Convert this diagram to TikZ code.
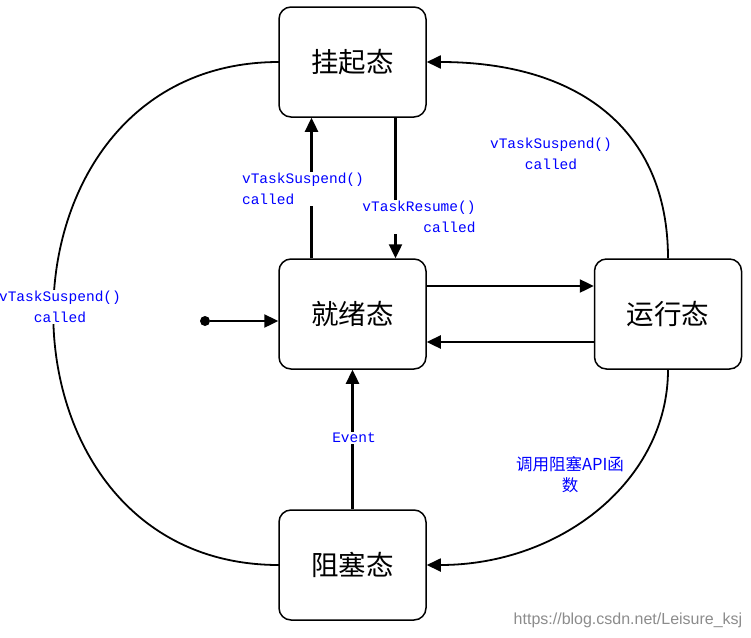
\documentclass[tikz,border=0pt]{standalone}
\usepackage{fontspec}
\newfontfamily\cjk{Noto Sans CJK SC}
\newfontfamily\labmono{Liberation Mono}
\newfontfamily\marksans{Liberation Sans}
\usetikzlibrary{arrows.meta}
\begin{document}
\begin{tikzpicture}[x=1pt,y=-1pt,>={Triangle[length=14pt,width=13pt]}]
        \tikzstyle{state}=[draw=black,line width=1.5pt,rounded corners=12pt,minimum width=147pt,minimum height=110pt,fill=white,font=\cjk\fontsize{27.5}{30}\selectfont]
        \tikzstyle{trans}=[draw,->,line width=2.4pt]
        \tikzstyle{curve}=[draw,line width=1.8pt]
        \tikzstyle{cond}=[fill=white,text=blue,inner sep=1pt,font=\labmono\fontsize{14.5}{21}\selectfont]
        \useasboundingbox (0,0) rectangle (751,637);
       \begin{scope}
         % curves first, states on top
         \coordinate (s) at (352.5,62);
         \coordinate (b) at (352.5,565);
         \path[curve] (b) ++(-73.5,0) .. controls +(-301,0) and +(-301,0) .. ([xshift=-73.5pt]s);
         \node [state] (susp) at (s) {挂起态};
         \node [state] (ready) at (352.5,314) {就绪态};
         \node [state] (run) at (668,314) {运行态};
         \node [state] (blk) at (b) {阻塞态};
         \node [circle,fill=black,inner sep=0pt,minimum size=10pt] (start) at (205,321) {};

         \path[curve,->] (run.north) .. controls +(0,-130) and +(150,0) .. (susp.east);
         \path[curve,->] (run.south) .. controls +(0,110) and +(135,0) .. (blk.east);

         \path[trans] (start) -- (start -| ready.west);
         \path[trans] ([xshift=-41pt]ready.north) -- ([xshift=-41pt]susp.south);
         \path[trans] ([xshift=43pt]susp.south) -- ([xshift=43pt]ready.north);
         \path[trans] ([yshift=28pt]ready.east) -- ([yshift=28pt]run.west);
         \path[trans] ([yshift=-28pt]run.west) -- ([yshift=-28pt]ready.east);
         \path[trans] (blk.north) -- (ready.south);

         \node [cond,align=center] (c1) at (60,307) {vTaskSuspend()\\called};
         \node [cond,align=left] (c2) at (303,189) {vTaskSuspend()\\called};
         \node [cond,align=right] (c3) at (419,217) {vTaskResume()\\called};
         \node [cond,align=center] (c4) at (551,154) {vTaskSuspend()\\called};
         \node [cond] (c5) at (354,438) {Event};
         \node [cond,fill=none,align=center,font=\cjk\fontsize{16.5}{21}\selectfont] (c6) at (570,475) {调用阻塞API函\\数};
         \node [text=black!45,font=\marksans\fontsize{16}{18}\selectfont] (mark) at (628,620) {https://blog.csdn.net/Leisure\_ksj};
        \end{scope}
      \end{tikzpicture}
\end{document}
